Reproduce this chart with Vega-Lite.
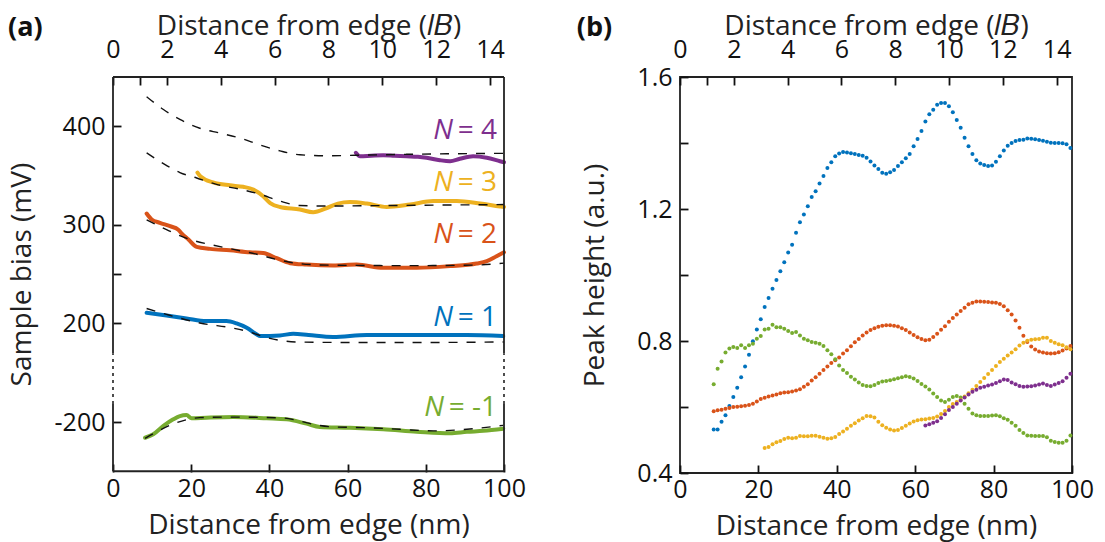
{
  "$schema": "https://vega.github.io/schema/vega-lite/v6.json",
  "background": "white",
  "padding": {"left": 8, "top": 11, "right": 5, "bottom": 2},
  "spacing": 49,
  "config": {
    "font": "Open Sans",
    "view": {"stroke": null},
    "title": {"font": "Open Sans", "color": "#111"},
    "axis": {
      "domain": false, "offset": -8, "tickColor": "#111", "tickWidth": 1.8, "tickSize": 8,
      "labelFontSize": 25, "labelColor": "#111", "labelFlush": false, "labelOverlap": false,
      "titleFontSize": 28, "titleFontWeight": "normal", "titleColor": "#222", "grid": false
    }
  },
  "datasets": {
    "aobs": [
      {"s":"N4","x":62.1,"y":373},{"s":"N4","x":63.2,"y":369.5},{"s":"N4","x":66,"y":370},{"s":"N4","x":69.1,"y":370.5},{"s":"N4","x":72,"y":370},{"s":"N4","x":75.1,"y":369.5},{"s":"N4","x":78,"y":369},{"s":"N4","x":80.2,"y":368},{"s":"N4","x":83.6,"y":365.5},{"s":"N4","x":86.2,"y":364.5},{"s":"N4","x":88.7,"y":367},{"s":"N4","x":92.1,"y":369.5},{"s":"N4","x":95.6,"y":368},{"s":"N4","x":99,"y":364.5},{"s":"N4","x":100,"y":363.5},
      {"s":"N3","x":21.6,"y":353},{"s":"N3","x":22.4,"y":349},{"s":"N3","x":25.6,"y":343},{"s":"N3","x":29.9,"y":340},{"s":"N3","x":33.3,"y":338.5},{"s":"N3","x":35.9,"y":335.7},{"s":"N3","x":38.4,"y":329},{"s":"N3","x":40.2,"y":322},{"s":"N3","x":42.7,"y":318},{"s":"N3","x":47.8,"y":315.5},{"s":"N3","x":51.2,"y":312.7},{"s":"N3","x":54.7,"y":317},{"s":"N3","x":57.5,"y":321.5},{"s":"N3","x":60.6,"y":323},{"s":"N3","x":64.9,"y":321.5},{"s":"N3","x":70,"y":318},{"s":"N3","x":76,"y":320.5},{"s":"N3","x":81.9,"y":324},{"s":"N3","x":87.9,"y":324},{"s":"N3","x":93.9,"y":321.5},{"s":"N3","x":99,"y":318.5},{"s":"N3","x":100,"y":318},
      {"s":"N2","x":8.6,"y":311.4},{"s":"N2","x":9.9,"y":305.3},{"s":"N2","x":12,"y":302},{"s":"N2","x":14.6,"y":298.5},{"s":"N2","x":16.7,"y":295},{"s":"N2","x":17.6,"y":291},{"s":"N2","x":19.3,"y":285},{"s":"N2","x":21.4,"y":277.5},{"s":"N2","x":24.8,"y":275.5},{"s":"N2","x":29.9,"y":274},{"s":"N2","x":35,"y":272},{"s":"N2","x":38.4,"y":271.3},{"s":"N2","x":41.9,"y":266},{"s":"N2","x":45.3,"y":261},{"s":"N2","x":49.5,"y":259.6},{"s":"N2","x":56.3,"y":258.6},{"s":"N2","x":62.3,"y":259.6},{"s":"N2","x":69.1,"y":256.3},{"s":"N2","x":77.7,"y":256.3},{"s":"N2","x":86.2,"y":258},{"s":"N2","x":93,"y":260.6},{"s":"N2","x":95.6,"y":263},{"s":"N2","x":98.1,"y":268},{"s":"N2","x":100,"y":272},
      {"s":"N1","x":8.6,"y":210.6},{"s":"N1","x":13.7,"y":207.9},{"s":"N1","x":18.8,"y":204.9},{"s":"N1","x":23.9,"y":202.2},{"s":"N1","x":29,"y":202.2},{"s":"N1","x":31.6,"y":199.8},{"s":"N1","x":34.2,"y":195.4},{"s":"N1","x":36.8,"y":188.6},{"s":"N1","x":37.6,"y":187},{"s":"N1","x":42.7,"y":187.6},{"s":"N1","x":46.1,"y":189.3},{"s":"N1","x":50,"y":188},{"s":"N1","x":56.3,"y":186},{"s":"N1","x":64.9,"y":188},{"s":"N1","x":73.4,"y":188},{"s":"N1","x":81.9,"y":188},{"s":"N1","x":90.5,"y":188},{"s":"N1","x":99.8,"y":187},
      {"s":"Nm1","x":8.2,"y":-216},{"s":"Nm1","x":10.3,"y":-212.5},{"s":"Nm1","x":12.9,"y":-204},{"s":"Nm1","x":15.4,"y":-197.3},{"s":"Nm1","x":17.1,"y":-194},{"s":"Nm1","x":18.8,"y":-193},{"s":"Nm1","x":20.1,"y":-196.2},{"s":"Nm1","x":23.9,"y":-195.6},{"s":"Nm1","x":30.8,"y":-194.9},{"s":"Nm1","x":39.3,"y":-196.2},{"s":"Nm1","x":44.4,"y":-197.3},{"s":"Nm1","x":49.5,"y":-201.7},{"s":"Nm1","x":52.9,"y":-205},{"s":"Nm1","x":60.6,"y":-205.8},{"s":"Nm1","x":69.1,"y":-207.4},{"s":"Nm1","x":77.7,"y":-209.8},{"s":"Nm1","x":86.2,"y":-211.5},{"s":"Nm1","x":90.5,"y":-210},{"s":"Nm1","x":94.7,"y":-209},{"s":"Nm1","x":99.8,"y":-206.8}
    ],
    "afit": [
      {"s":"N4","x":8.6,"y":430},{"s":"N4","x":12.9,"y":417},{"s":"N4","x":17.1,"y":407},{"s":"N4","x":22.2,"y":398},{"s":"N4","x":27.4,"y":393},{"s":"N4","x":32.5,"y":388},{"s":"N4","x":37.6,"y":381},{"s":"N4","x":42.7,"y":375},{"s":"N4","x":47.8,"y":371},{"s":"N4","x":55,"y":370},{"s":"N4","x":62,"y":370.5},{"s":"N4","x":75,"y":371.5},{"s":"N4","x":100,"y":372.5},
      {"s":"N3","x":8.6,"y":373},{"s":"N3","x":12.9,"y":362},{"s":"N3","x":17.1,"y":353},{"s":"N3","x":21.4,"y":347.5},{"s":"N3","x":26.5,"y":341},{"s":"N3","x":32.5,"y":336},{"s":"N3","x":37.6,"y":331},{"s":"N3","x":42.7,"y":324},{"s":"N3","x":47.8,"y":319.5},{"s":"N3","x":55,"y":319},{"s":"N3","x":70,"y":319.5},{"s":"N3","x":85,"y":320},{"s":"N3","x":100,"y":320.5},
      {"s":"N2","x":8.6,"y":305},{"s":"N2","x":13.7,"y":295},{"s":"N2","x":19.7,"y":285},{"s":"N2","x":24.8,"y":280},{"s":"N2","x":30.8,"y":275},{"s":"N2","x":36.8,"y":270},{"s":"N2","x":42.7,"y":264},{"s":"N2","x":47.8,"y":260.5},{"s":"N2","x":55,"y":259},{"s":"N2","x":75,"y":258.5},{"s":"N2","x":92,"y":259},{"s":"N2","x":100,"y":261},
      {"s":"N1","x":8.6,"y":215},{"s":"N1","x":13.7,"y":209},{"s":"N1","x":22.2,"y":200.3},{"s":"N1","x":30.8,"y":195},{"s":"N1","x":34.2,"y":192},{"s":"N1","x":39.3,"y":185.5},{"s":"N1","x":47,"y":181},{"s":"N1","x":60,"y":180.5},{"s":"N1","x":80,"y":180.5},{"s":"N1","x":100,"y":181},
      {"s":"Nm1","x":8.2,"y":-216.6},{"s":"Nm1","x":11.2,"y":-210},{"s":"Nm1","x":15.4,"y":-202},{"s":"Nm1","x":18.8,"y":-197.7},{"s":"Nm1","x":22.2,"y":-195.6},{"s":"Nm1","x":30,"y":-195},{"s":"Nm1","x":43.6,"y":-196},{"s":"Nm1","x":47.8,"y":-199},{"s":"Nm1","x":52,"y":-203},{"s":"Nm1","x":56.3,"y":-205},{"s":"Nm1","x":64.9,"y":-205.8},{"s":"Nm1","x":73.4,"y":-207.4},{"s":"Nm1","x":81.9,"y":-209},{"s":"Nm1","x":90.5,"y":-207.4},{"s":"Nm1","x":99.8,"y":-203.4}
    ],
    "alab": [
      {"s":"N4","x":98.2,"y":395,"t":"= 4"},
      {"s":"N3","x":98.2,"y":342,"t":"= 3"},
      {"s":"N2","x":98.2,"y":290,"t":"= 2"},
      {"s":"N1","x":98.2,"y":205,"t":"= 1"},
      {"s":"Nm1","x":98.2,"y":-186,"t":"= -1"}
    ],
    "bpts": [
      {"s":"N1","x":8.6,"h":0.532},{"s":"N1","x":9.6,"h":0.532},{"s":"N1","x":10.6,"h":0.555},{"s":"N1","x":11.6,"h":0.575},{"s":"N1","x":12.6,"h":0.603},{"s":"N1","x":13.6,"h":0.63},{"s":"N1","x":14.6,"h":0.658},{"s":"N1","x":15.6,"h":0.69},{"s":"N1","x":16.6,"h":0.723},{"s":"N1","x":17.6,"h":0.758},{"s":"N1","x":18.6,"h":0.799},{"s":"N1","x":19.6,"h":0.835},{"s":"N1","x":20.6,"h":0.866},{"s":"N1","x":21.6,"h":0.903},{"s":"N1","x":22.6,"h":0.93},{"s":"N1","x":23.6,"h":0.958},{"s":"N1","x":24.6,"h":0.985},{"s":"N1","x":25.6,"h":1.011},{"s":"N1","x":26.6,"h":1.039},{"s":"N1","x":27.6,"h":1.068},{"s":"N1","x":28.6,"h":1.092},{"s":"N1","x":29.6,"h":1.128},{"s":"N1","x":30.6,"h":1.16},{"s":"N1","x":31.6,"h":1.183},{"s":"N1","x":32.6,"h":1.208},{"s":"N1","x":33.6,"h":1.236},{"s":"N1","x":34.6,"h":1.254},{"s":"N1","x":35.6,"h":1.277},{"s":"N1","x":36.6,"h":1.3},{"s":"N1","x":37.6,"h":1.324},{"s":"N1","x":38.6,"h":1.342},{"s":"N1","x":39.6,"h":1.36},{"s":"N1","x":40.6,"h":1.368},{"s":"N1","x":41.6,"h":1.373},{"s":"N1","x":42.6,"h":1.371},{"s":"N1","x":43.6,"h":1.369},{"s":"N1","x":44.6,"h":1.367},{"s":"N1","x":45.6,"h":1.364},{"s":"N1","x":46.6,"h":1.361},{"s":"N1","x":47.6,"h":1.355},{"s":"N1","x":48.6,"h":1.344},{"s":"N1","x":49.6,"h":1.332},{"s":"N1","x":50.6,"h":1.321},{"s":"N1","x":51.6,"h":1.31},{"s":"N1","x":52.6,"h":1.307},{"s":"N1","x":53.6,"h":1.311},{"s":"N1","x":54.6,"h":1.318},{"s":"N1","x":55.6,"h":1.33},{"s":"N1","x":56.6,"h":1.342},{"s":"N1","x":57.6,"h":1.354},{"s":"N1","x":58.6,"h":1.367},{"s":"N1","x":59.6,"h":1.39},{"s":"N1","x":60.6,"h":1.412},{"s":"N1","x":61.6,"h":1.436},{"s":"N1","x":62.6,"h":1.465},{"s":"N1","x":63.6,"h":1.487},{"s":"N1","x":64.6,"h":1.501},{"s":"N1","x":65.6,"h":1.516},{"s":"N1","x":66.6,"h":1.521},{"s":"N1","x":67.6,"h":1.521},{"s":"N1","x":68.6,"h":1.511},{"s":"N1","x":69.6,"h":1.493},{"s":"N1","x":70.6,"h":1.47},{"s":"N1","x":71.6,"h":1.446},{"s":"N1","x":72.6,"h":1.416},{"s":"N1","x":73.6,"h":1.39},{"s":"N1","x":74.6,"h":1.367},{"s":"N1","x":75.6,"h":1.348},{"s":"N1","x":76.6,"h":1.338},{"s":"N1","x":77.6,"h":1.333},{"s":"N1","x":78.6,"h":1.33},{"s":"N1","x":79.6,"h":1.332},{"s":"N1","x":80.6,"h":1.343},{"s":"N1","x":81.6,"h":1.36},{"s":"N1","x":82.6,"h":1.377},{"s":"N1","x":83.6,"h":1.392},{"s":"N1","x":84.6,"h":1.4},{"s":"N1","x":85.6,"h":1.406},{"s":"N1","x":86.6,"h":1.409},{"s":"N1","x":87.6,"h":1.41},{"s":"N1","x":88.6,"h":1.414},{"s":"N1","x":89.6,"h":1.413},{"s":"N1","x":90.6,"h":1.411},{"s":"N1","x":91.6,"h":1.409},{"s":"N1","x":92.6,"h":1.407},{"s":"N1","x":93.6,"h":1.404},{"s":"N1","x":94.6,"h":1.401},{"s":"N1","x":95.6,"h":1.4},{"s":"N1","x":96.6,"h":1.4},{"s":"N1","x":97.6,"h":1.399},{"s":"N1","x":98.6,"h":1.396},{"s":"N1","x":99.6,"h":1.385},
      {"s":"N2","x":8.6,"h":0.587},{"s":"N2","x":9.6,"h":0.59},{"s":"N2","x":10.6,"h":0.592},{"s":"N2","x":11.6,"h":0.595},{"s":"N2","x":12.6,"h":0.597},{"s":"N2","x":13.6,"h":0.6},{"s":"N2","x":14.6,"h":0.601},{"s":"N2","x":15.6,"h":0.602},{"s":"N2","x":16.6,"h":0.604},{"s":"N2","x":17.6,"h":0.606},{"s":"N2","x":18.6,"h":0.61},{"s":"N2","x":19.6,"h":0.617},{"s":"N2","x":20.6,"h":0.624},{"s":"N2","x":21.6,"h":0.628},{"s":"N2","x":22.6,"h":0.632},{"s":"N2","x":23.6,"h":0.635},{"s":"N2","x":24.6,"h":0.638},{"s":"N2","x":25.6,"h":0.642},{"s":"N2","x":26.6,"h":0.644},{"s":"N2","x":27.6,"h":0.645},{"s":"N2","x":28.6,"h":0.647},{"s":"N2","x":29.6,"h":0.65},{"s":"N2","x":30.6,"h":0.654},{"s":"N2","x":31.6,"h":0.661},{"s":"N2","x":32.6,"h":0.669},{"s":"N2","x":33.6,"h":0.68},{"s":"N2","x":34.6,"h":0.69},{"s":"N2","x":35.6,"h":0.701},{"s":"N2","x":36.6,"h":0.712},{"s":"N2","x":37.6,"h":0.723},{"s":"N2","x":38.6,"h":0.733},{"s":"N2","x":39.6,"h":0.742},{"s":"N2","x":40.6,"h":0.75},{"s":"N2","x":41.6,"h":0.762},{"s":"N2","x":42.6,"h":0.772},{"s":"N2","x":43.6,"h":0.784},{"s":"N2","x":44.6,"h":0.796},{"s":"N2","x":45.6,"h":0.806},{"s":"N2","x":46.6,"h":0.817},{"s":"N2","x":47.6,"h":0.826},{"s":"N2","x":48.6,"h":0.833},{"s":"N2","x":49.6,"h":0.839},{"s":"N2","x":50.6,"h":0.843},{"s":"N2","x":51.6,"h":0.846},{"s":"N2","x":52.6,"h":0.848},{"s":"N2","x":53.6,"h":0.848},{"s":"N2","x":54.6,"h":0.846},{"s":"N2","x":55.6,"h":0.844},{"s":"N2","x":56.6,"h":0.839},{"s":"N2","x":57.6,"h":0.833},{"s":"N2","x":58.6,"h":0.826},{"s":"N2","x":59.6,"h":0.818},{"s":"N2","x":60.6,"h":0.811},{"s":"N2","x":61.6,"h":0.806},{"s":"N2","x":62.6,"h":0.802},{"s":"N2","x":63.6,"h":0.804},{"s":"N2","x":64.6,"h":0.812},{"s":"N2","x":65.6,"h":0.822},{"s":"N2","x":66.6,"h":0.834},{"s":"N2","x":67.6,"h":0.845},{"s":"N2","x":68.6,"h":0.858},{"s":"N2","x":69.6,"h":0.87},{"s":"N2","x":70.6,"h":0.88},{"s":"N2","x":71.6,"h":0.891},{"s":"N2","x":72.6,"h":0.901},{"s":"N2","x":73.6,"h":0.911},{"s":"N2","x":74.6,"h":0.916},{"s":"N2","x":75.6,"h":0.92},{"s":"N2","x":76.6,"h":0.92},{"s":"N2","x":77.6,"h":0.919},{"s":"N2","x":78.6,"h":0.918},{"s":"N2","x":79.6,"h":0.917},{"s":"N2","x":80.6,"h":0.916},{"s":"N2","x":81.6,"h":0.912},{"s":"N2","x":82.6,"h":0.905},{"s":"N2","x":83.6,"h":0.893},{"s":"N2","x":84.6,"h":0.88},{"s":"N2","x":85.6,"h":0.862},{"s":"N2","x":86.6,"h":0.84},{"s":"N2","x":87.6,"h":0.816},{"s":"N2","x":88.6,"h":0.797},{"s":"N2","x":89.6,"h":0.783},{"s":"N2","x":90.6,"h":0.774},{"s":"N2","x":91.6,"h":0.768},{"s":"N2","x":92.6,"h":0.765},{"s":"N2","x":93.6,"h":0.763},{"s":"N2","x":94.6,"h":0.762},{"s":"N2","x":95.6,"h":0.763},{"s":"N2","x":96.6,"h":0.766},{"s":"N2","x":97.6,"h":0.771},{"s":"N2","x":98.6,"h":0.777},{"s":"N2","x":99.6,"h":0.785},
      {"s":"Nm1","x":8.6,"h":0.669},{"s":"Nm1","x":9.6,"h":0.716},{"s":"Nm1","x":10.6,"h":0.738},{"s":"Nm1","x":11.6,"h":0.765},{"s":"Nm1","x":12.6,"h":0.777},{"s":"Nm1","x":13.6,"h":0.782},{"s":"Nm1","x":14.6,"h":0.779},{"s":"Nm1","x":15.6,"h":0.787},{"s":"Nm1","x":16.6,"h":0.779},{"s":"Nm1","x":17.6,"h":0.787},{"s":"Nm1","x":18.6,"h":0.792},{"s":"Nm1","x":19.6,"h":0.807},{"s":"Nm1","x":20.6,"h":0.815},{"s":"Nm1","x":21.6,"h":0.835},{"s":"Nm1","x":22.6,"h":0.837},{"s":"Nm1","x":23.6,"h":0.849},{"s":"Nm1","x":24.6,"h":0.842},{"s":"Nm1","x":25.6,"h":0.842},{"s":"Nm1","x":26.6,"h":0.837},{"s":"Nm1","x":27.6,"h":0.83},{"s":"Nm1","x":28.6,"h":0.824},{"s":"Nm1","x":29.6,"h":0.827},{"s":"Nm1","x":30.6,"h":0.817},{"s":"Nm1","x":31.6,"h":0.807},{"s":"Nm1","x":32.6,"h":0.802},{"s":"Nm1","x":33.6,"h":0.797},{"s":"Nm1","x":34.6,"h":0.795},{"s":"Nm1","x":35.6,"h":0.792},{"s":"Nm1","x":36.6,"h":0.785},{"s":"Nm1","x":37.6,"h":0.772},{"s":"Nm1","x":38.6,"h":0.76},{"s":"Nm1","x":39.6,"h":0.745},{"s":"Nm1","x":40.6,"h":0.726},{"s":"Nm1","x":41.6,"h":0.712},{"s":"Nm1","x":42.6,"h":0.703},{"s":"Nm1","x":43.6,"h":0.692},{"s":"Nm1","x":44.6,"h":0.683},{"s":"Nm1","x":45.6,"h":0.674},{"s":"Nm1","x":46.6,"h":0.667},{"s":"Nm1","x":47.6,"h":0.664},{"s":"Nm1","x":48.6,"h":0.663},{"s":"Nm1","x":49.6,"h":0.667},{"s":"Nm1","x":50.6,"h":0.673},{"s":"Nm1","x":51.6,"h":0.677},{"s":"Nm1","x":52.6,"h":0.679},{"s":"Nm1","x":53.6,"h":0.681},{"s":"Nm1","x":54.6,"h":0.684},{"s":"Nm1","x":55.6,"h":0.687},{"s":"Nm1","x":56.6,"h":0.69},{"s":"Nm1","x":57.6,"h":0.693},{"s":"Nm1","x":58.6,"h":0.691},{"s":"Nm1","x":59.6,"h":0.686},{"s":"Nm1","x":60.6,"h":0.679},{"s":"Nm1","x":61.6,"h":0.67},{"s":"Nm1","x":62.6,"h":0.662},{"s":"Nm1","x":63.6,"h":0.653},{"s":"Nm1","x":64.6,"h":0.641},{"s":"Nm1","x":65.6,"h":0.63},{"s":"Nm1","x":66.6,"h":0.62},{"s":"Nm1","x":67.6,"h":0.615},{"s":"Nm1","x":68.6,"h":0.622},{"s":"Nm1","x":69.6,"h":0.63},{"s":"Nm1","x":70.6,"h":0.633},{"s":"Nm1","x":71.6,"h":0.629},{"s":"Nm1","x":72.6,"h":0.61},{"s":"Nm1","x":73.6,"h":0.595},{"s":"Nm1","x":74.6,"h":0.58},{"s":"Nm1","x":75.6,"h":0.575},{"s":"Nm1","x":76.6,"h":0.573},{"s":"Nm1","x":77.6,"h":0.573},{"s":"Nm1","x":78.6,"h":0.573},{"s":"Nm1","x":79.6,"h":0.574},{"s":"Nm1","x":80.6,"h":0.575},{"s":"Nm1","x":81.6,"h":0.572},{"s":"Nm1","x":82.6,"h":0.566},{"s":"Nm1","x":83.6,"h":0.561},{"s":"Nm1","x":84.6,"h":0.552},{"s":"Nm1","x":85.6,"h":0.543},{"s":"Nm1","x":86.6,"h":0.53},{"s":"Nm1","x":87.6,"h":0.521},{"s":"Nm1","x":88.6,"h":0.514},{"s":"Nm1","x":89.6,"h":0.513},{"s":"Nm1","x":90.6,"h":0.512},{"s":"Nm1","x":91.6,"h":0.512},{"s":"Nm1","x":92.6,"h":0.512},{"s":"Nm1","x":93.6,"h":0.508},{"s":"Nm1","x":94.6,"h":0.498},{"s":"Nm1","x":95.6,"h":0.494},{"s":"Nm1","x":96.6,"h":0.492},{"s":"Nm1","x":97.6,"h":0.492},{"s":"Nm1","x":98.6,"h":0.498},{"s":"Nm1","x":99.6,"h":0.514},
      {"s":"N3","x":21.6,"h":0.476},{"s":"N3","x":22.6,"h":0.479},{"s":"N3","x":23.6,"h":0.487},{"s":"N3","x":24.6,"h":0.493},{"s":"N3","x":25.6,"h":0.497},{"s":"N3","x":26.6,"h":0.503},{"s":"N3","x":27.6,"h":0.507},{"s":"N3","x":28.6,"h":0.505},{"s":"N3","x":29.6,"h":0.507},{"s":"N3","x":30.6,"h":0.512},{"s":"N3","x":31.6,"h":0.511},{"s":"N3","x":32.6,"h":0.511},{"s":"N3","x":33.6,"h":0.513},{"s":"N3","x":34.6,"h":0.513},{"s":"N3","x":35.6,"h":0.51},{"s":"N3","x":36.6,"h":0.507},{"s":"N3","x":37.6,"h":0.504},{"s":"N3","x":38.6,"h":0.505},{"s":"N3","x":39.6,"h":0.509},{"s":"N3","x":40.6,"h":0.518},{"s":"N3","x":41.6,"h":0.526},{"s":"N3","x":42.6,"h":0.534},{"s":"N3","x":43.6,"h":0.543},{"s":"N3","x":44.6,"h":0.551},{"s":"N3","x":45.6,"h":0.559},{"s":"N3","x":46.6,"h":0.566},{"s":"N3","x":47.6,"h":0.573},{"s":"N3","x":48.6,"h":0.572},{"s":"N3","x":49.6,"h":0.568},{"s":"N3","x":50.6,"h":0.555},{"s":"N3","x":51.6,"h":0.545},{"s":"N3","x":52.6,"h":0.537},{"s":"N3","x":53.6,"h":0.532},{"s":"N3","x":54.6,"h":0.529},{"s":"N3","x":55.6,"h":0.53},{"s":"N3","x":56.6,"h":0.536},{"s":"N3","x":57.6,"h":0.543},{"s":"N3","x":58.6,"h":0.55},{"s":"N3","x":59.6,"h":0.556},{"s":"N3","x":60.6,"h":0.56},{"s":"N3","x":61.6,"h":0.562},{"s":"N3","x":62.6,"h":0.563},{"s":"N3","x":63.6,"h":0.565},{"s":"N3","x":64.6,"h":0.567},{"s":"N3","x":65.6,"h":0.571},{"s":"N3","x":66.6,"h":0.579},{"s":"N3","x":67.6,"h":0.588},{"s":"N3","x":68.6,"h":0.6},{"s":"N3","x":69.6,"h":0.609},{"s":"N3","x":70.6,"h":0.615},{"s":"N3","x":71.6,"h":0.622},{"s":"N3","x":72.6,"h":0.632},{"s":"N3","x":73.6,"h":0.642},{"s":"N3","x":74.6,"h":0.652},{"s":"N3","x":75.6,"h":0.664},{"s":"N3","x":76.6,"h":0.676},{"s":"N3","x":77.6,"h":0.688},{"s":"N3","x":78.6,"h":0.7},{"s":"N3","x":79.6,"h":0.712},{"s":"N3","x":80.6,"h":0.724},{"s":"N3","x":81.6,"h":0.736},{"s":"N3","x":82.6,"h":0.746},{"s":"N3","x":83.6,"h":0.756},{"s":"N3","x":84.6,"h":0.765},{"s":"N3","x":85.6,"h":0.775},{"s":"N3","x":86.6,"h":0.786},{"s":"N3","x":87.6,"h":0.795},{"s":"N3","x":88.6,"h":0.801},{"s":"N3","x":89.6,"h":0.804},{"s":"N3","x":90.6,"h":0.805},{"s":"N3","x":91.6,"h":0.806},{"s":"N3","x":92.6,"h":0.81},{"s":"N3","x":93.6,"h":0.81},{"s":"N3","x":94.6,"h":0.8},{"s":"N3","x":95.6,"h":0.795},{"s":"N3","x":96.6,"h":0.79},{"s":"N3","x":97.6,"h":0.787},{"s":"N3","x":98.6,"h":0.781},{"s":"N3","x":99.6,"h":0.775},
      {"s":"N4","x":62.6,"h":0.544},{"s":"N4","x":63.6,"h":0.548},{"s":"N4","x":64.6,"h":0.552},{"s":"N4","x":65.6,"h":0.557},{"s":"N4","x":66.6,"h":0.567},{"s":"N4","x":67.6,"h":0.578},{"s":"N4","x":68.6,"h":0.591},{"s":"N4","x":69.6,"h":0.6},{"s":"N4","x":70.6,"h":0.61},{"s":"N4","x":71.6,"h":0.62},{"s":"N4","x":72.6,"h":0.629},{"s":"N4","x":73.6,"h":0.638},{"s":"N4","x":74.6,"h":0.646},{"s":"N4","x":75.6,"h":0.652},{"s":"N4","x":76.6,"h":0.658},{"s":"N4","x":77.6,"h":0.661},{"s":"N4","x":78.6,"h":0.665},{"s":"N4","x":79.6,"h":0.668},{"s":"N4","x":80.6,"h":0.673},{"s":"N4","x":81.6,"h":0.678},{"s":"N4","x":82.6,"h":0.683},{"s":"N4","x":83.6,"h":0.682},{"s":"N4","x":84.6,"h":0.674},{"s":"N4","x":85.6,"h":0.669},{"s":"N4","x":86.6,"h":0.664},{"s":"N4","x":87.6,"h":0.661},{"s":"N4","x":88.6,"h":0.662},{"s":"N4","x":89.6,"h":0.663},{"s":"N4","x":90.6,"h":0.665},{"s":"N4","x":91.6,"h":0.668},{"s":"N4","x":92.6,"h":0.671},{"s":"N4","x":93.6,"h":0.667},{"s":"N4","x":94.6,"h":0.664},{"s":"N4","x":95.6,"h":0.668},{"s":"N4","x":96.6,"h":0.673},{"s":"N4","x":97.6,"h":0.678},{"s":"N4","x":98.6,"h":0.689},{"s":"N4","x":99.6,"h":0.701}
    ]
  },
  "hconcat": [
    {
      "width": 391, "height": 395,
      "title": {"text": "(a)", "anchor": "start", "frame": "bounds", "fontSize": 27, "fontWeight": "bold", "offset": -30, "dx": 0},
      "resolve": {"scale": {"x": "independent"}},
      "layer": [
        {
          "layer": [
            {
              "data": {"name": "aobs"},
              "mark": {"type": "line", "strokeWidth": 4, "strokeCap": "round", "strokeJoin": "round", "interpolate": "monotone"},
              "encoding": {
                "x": {"field": "x", "type": "quantitative", "scale": {"domain": [0, 100], "nice": false},
                  "axis": {"orient": "bottom", "values": [0, 20, 40, 60, 80, 100], "title": "Distance from edge (nm)", "labelPadding": 4, "titlePadding": 10}},
                "y": {"field": "y", "type": "quantitative",
                  "scale": {"domain": [-250, -150, 150, 450], "range": [394.25, 295.75, 295.5, 0], "nice": false, "zero": false},
                  "axis": {"values": [-200, 200, 250, 300, 350, 400], "labelExpr": "datum.value % 100 === 0 ? '' + datum.value : ''", "title": "Sample bias (mV)", "labelPadding": 8, "titlePadding": 18}},
                "color": {"field": "s", "type": "nominal", "legend": null,
                  "scale": {"domain": ["N1", "N2", "N3", "N4", "Nm1"], "range": ["#0072BD", "#D95319", "#EDB120", "#7E2F8E", "#77AC30"]}},
                "detail": {"field": "s"}
              }
            },
            {
              "data": {"name": "afit"},
              "mark": {"type": "line", "color": "#111", "strokeWidth": 1.4, "strokeDash": [9, 9], "interpolate": "monotone"},
              "encoding": {
                "x": {"field": "x", "type": "quantitative"},
                "y": {"field": "y", "type": "quantitative"},
                "detail": {"field": "s"}
              }
            },
            {
              "data": {"values": [{"e": 450}, {"e": -250}]},
              "mark": {"type": "rule", "color": "#222", "strokeWidth": 1.8},
              "encoding": {"y": {"field": "e", "type": "quantitative"}, "x": {"datum": 0, "type": "quantitative"}, "x2": {"datum": 100}}
            },
            {
              "data": {"values": [{"e": 0}, {"e": 100}]},
              "mark": {"type": "rule", "color": "#222", "strokeWidth": 1.8},
              "encoding": {"x": {"field": "e", "type": "quantitative"}, "y": {"datum": 169.5, "type": "quantitative"}, "y2": {"datum": 450}}
            },
            {
              "data": {"values": [{"e": 0}, {"e": 100}]},
              "mark": {"type": "rule", "color": "#222", "strokeWidth": 1.8},
              "encoding": {"x": {"field": "e", "type": "quantitative"}, "y": {"datum": -250, "type": "quantitative"}, "y2": {"datum": -181.7}}
            },
            {
              "data": {"values": [{"e": 0}, {"e": 100}]},
              "mark": {"type": "rule", "color": "#222", "strokeWidth": 1.6, "strokeDash": [3, 4]},
              "encoding": {"x": {"field": "e", "type": "quantitative"}, "y": {"datum": -181.7, "type": "quantitative"}, "y2": {"datum": 169.5}}
            },
            {
              "data": {"name": "alab"},
              "mark": {"type": "text", "align": "right", "baseline": "middle", "fontSize": 28},
              "encoding": {
                "x": {"field": "x", "type": "quantitative"},
                "y": {"field": "y", "type": "quantitative"},
                "text": {"field": "t"},
                "color": {"field": "s", "type": "nominal"}
              }
            },
            {
              "data": {"name": "alab"},
              "transform": [{"filter": "datum.s !== 'Nm1'"}],
              "mark": {"type": "text", "align": "right", "baseline": "middle", "fontSize": 28, "fontStyle": "italic", "dx": -44, "text": "N"},
              "encoding": {
                "x": {"field": "x", "type": "quantitative"},
                "y": {"field": "y", "type": "quantitative"},
                "color": {"field": "s", "type": "nominal"}
              }
            },
            {
              "data": {"name": "alab"},
              "transform": [{"filter": "datum.s === 'Nm1'"}],
              "mark": {"type": "text", "align": "right", "baseline": "middle", "fontSize": 28, "fontStyle": "italic", "dx": -53, "text": "N"},
              "encoding": {
                "x": {"field": "x", "type": "quantitative"},
                "y": {"field": "y", "type": "quantitative"},
                "color": {"field": "s", "type": "nominal"}
              }
            }
          ]
        },
        {
          "data": {"values": [{}]},
          "mark": {"type": "rule", "opacity": 0},
          "encoding": {
            "x": {"datum": 0, "type": "quantitative", "scale": {"domain": [0, 14.52], "nice": false},
              "axis": {"orient": "top", "values": [0, 1, 2, 4, 6, 8, 10, 12, 14], "labelExpr": "datum.value === 1 ? '' : datum.label", "title": "Distance from edge (𝑙𝐵)", "labelPadding": 15, "titlePadding": -3}}
          }
        }
      ]
    },
    {
      "width": 392, "height": 396,
      "title": {"text": "(b)", "anchor": "start", "frame": "bounds", "fontSize": 27, "fontWeight": "bold", "offset": -30, "dx": -5},
      "view": {"stroke": "#222", "strokeWidth": 1.8},
      "resolve": {"scale": {"x": "independent"}},
      "layer": [
        {
          "data": {"name": "bpts"},
          "mark": {"type": "point", "shape": "circle", "filled": true, "size": 16, "opacity": 1},
          "encoding": {
            "x": {"field": "x", "type": "quantitative", "scale": {"domain": [0, 100], "nice": false},
              "axis": {"orient": "bottom", "values": [0, 20, 40, 60, 80, 100], "title": "Distance from edge (nm)", "labelPadding": 4, "titlePadding": 10}},
            "y": {"field": "h", "type": "quantitative", "scale": {"domain": [0.4, 1.6], "nice": false, "zero": false},
              "axis": {"values": [0.4, 0.6, 0.8, 1.0, 1.2, 1.4, 1.6], "labelExpr": "(round(datum.value * 10) % 4 === 0) ? format(datum.value, '.1f') : ''", "title": "Peak height (a.u.)", "labelPadding": 8, "titlePadding": 27}},
            "color": {"field": "s", "type": "nominal", "legend": null,
              "scale": {"domain": ["N1", "N2", "N3", "N4", "Nm1"], "range": ["#0072BD", "#D95319", "#EDB120", "#7E2F8E", "#77AC30"]}}
          }
        },
        {
          "data": {"values": [{}]},
          "mark": {"type": "rule", "opacity": 0},
          "encoding": {
            "x": {"datum": 0, "type": "quantitative", "scale": {"domain": [0, 14.57], "nice": false},
              "axis": {"orient": "top", "values": [0, 1, 2, 4, 6, 8, 10, 12, 14], "labelExpr": "datum.value === 1 ? '' : datum.label", "title": "Distance from edge (𝑙𝐵)", "labelPadding": 15, "titlePadding": -3}}
          }
        }
      ]
    }
  ]
}
